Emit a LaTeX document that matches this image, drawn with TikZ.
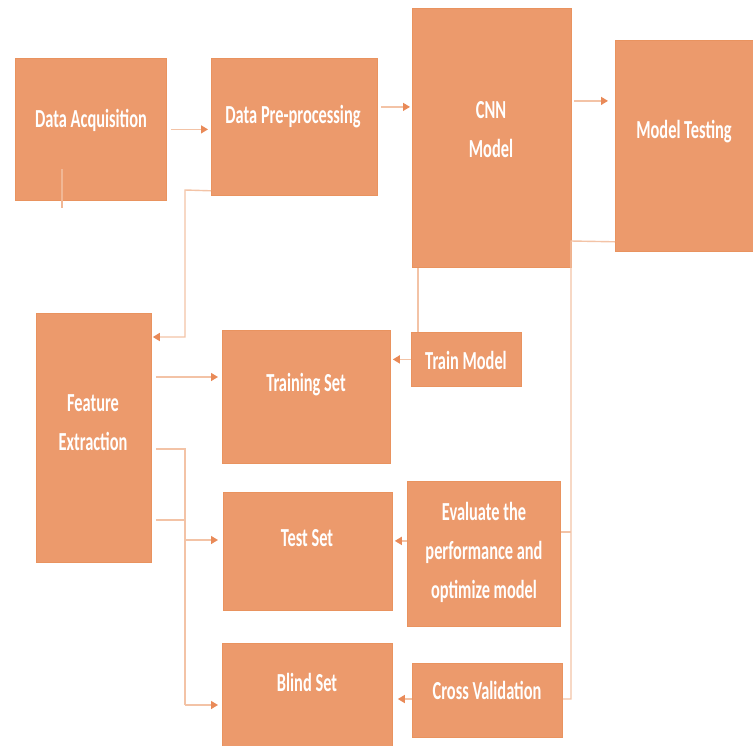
\documentclass[tikz,border=0pt]{standalone}
\usepackage{fontspec}
\newfontfamily\boxfont[FakeStretch=0.63]{Carlito}
\usetikzlibrary{arrows.meta}
\definecolor{boxfill}{HTML}{EC9A6C}
\definecolor{boxedge}{HTML}{E9935F}
\definecolor{linec}{HTML}{F3C3A6}
\definecolor{tipc}{HTML}{E98A58}
\tikzset{
  box/.style={draw=boxedge, line width=0.8pt, fill=boxfill, anchor=north west, inner sep=0pt},
  lbl/.style={text=white, font=\boxfont\bfseries\fontsize{26}{39}\selectfont, align=center, inner sep=0pt},
  conn/.style={draw=linec, line width=1.4pt},
  arr/.style={conn, -{Triangle[length=7pt,width=8pt,color=tipc,fill=tipc]}}
}
\begin{document}
\begin{tikzpicture}[x=1pt,y=-1pt]
\useasboundingbox (0,0) rectangle (753,745);
% boxes
\node[box, minimum width=151pt, minimum height=142pt] (da) at (15,58) {};
\node[box, minimum width=166pt, minimum height=137pt] (dpp) at (211,58) {};
\node[box, minimum width=159pt, minimum height=259pt] (cnn) at (412,8) {};
\node[box, minimum width=140pt, minimum height=211pt] (mt) at (615,40) {};
\node[box, minimum width=115pt, minimum height=249pt] (fe) at (36,313) {};
\node[box, minimum width=168pt, minimum height=133pt] (trs) at (222,330) {};
\node[box, minimum width=110pt, minimum height=54pt] (tm) at (411,332) {};
\node[box, minimum width=169pt, minimum height=118pt] (tes) at (223,492) {};
\node[box, minimum width=153pt, minimum height=145pt] (ev) at (407,481) {};
\node[box, minimum width=170pt, minimum height=104pt] (bs) at (222,643) {};
\node[box, minimum width=150pt, minimum height=74pt] (cv) at (412,663) {};
% labels
\node[lbl] (da-t) at (91,120) {Data Acquisition};
\node[lbl] (dpp-t) at (293,117) {Data Pre-processing};
\node[lbl] (cnn-t) at (491,130) {CNN\\Model};
\node[lbl] (mt-t) at (684,132) {Model Testing};
\node[lbl] (fe-t) at (93,423) {Feature\\Extraction};
\node[lbl] (trs-t) at (306,385) {Training Set};
\node[lbl] (tm-t) at (466,360) {Train Model};
\node[lbl] (tes-t) at (307,538) {Test Set};
\node[lbl] (ev-t) at (484,552) {Evaluate the\\performance and\\optimize model};
\node[lbl] (bs-t) at (307,682) {Blind Set};
\node[lbl] (cv-t) at (487,690) {Cross Validation};
% helper coordinates
\coordinate (bt) at (571,241);
\coordinate (bb) at (571,699);
\coordinate (lt) at (185,190);
\coordinate (lb) at (185,705);
\coordinate (dppo) at ([yshift=20pt]dpp.east);
\coordinate (cnno) at ([yshift=37pt]cnn.east);
\coordinate (mto) at ([yshift=10pt]mt.south west);
\coordinate (evo) at ([yshift=22pt]ev.east);
\coordinate (evi) at ([yshift=13pt]ev.west);
\coordinate (tmo) at ([xshift=7pt]tm.north west);
\coordinate (fein) at ([yshift=-24pt]fe.north east);
\coordinate (feo1) at ([yshift=-64pt]fe.north east);
\coordinate (feo2) at ([yshift=-136pt]fe.north east);
\coordinate (feo3) at ([yshift=-207pt]fe.north east);
\coordinate (tesi) at ([yshift=-48pt]tes.north west);
\coordinate (dppl) at ([yshift=5pt]dpp.south west);
% connectors
\draw[arr] ([xshift=4pt]da.east) -- ([xshift=-3pt]dpp.west |- da.east);
\draw[arr] ([xshift=3pt]dppo) -- ([xshift=-2pt]cnn.west |- dppo);
\draw[arr] ([xshift=2pt]cnno) -- ([xshift=-7pt]mt.west |- cnno);
\draw[conn] (mto) -- (bt) -- (bb) -- (cv.east |- bb);
\draw[conn] (evo) -- (bt |- evo);
\draw[conn] (tmo) -- (tmo |- cnn.south);
\draw[arr] (tm.west) -- ([xshift=2pt]trs.east |- tm.west);
\draw[arr] (evi) -- ([xshift=2pt]tes.east |- evi);
\draw[arr] (cv.west |- bb) -- ([xshift=5pt]bs.east |- bb);
\draw[arr] (dppl) -- (lt) -- (lt |- fein) -- ([xshift=1pt]fein);
\draw[arr] ([xshift=4pt]feo1) -- ([xshift=-4pt]trs.west |- feo1);
\draw[conn] ([xshift=4pt]feo2) -- (lb |- feo2) -- (lb);
\draw[arr] (lb) -- ([xshift=-4pt]bs.west |- lb);
\draw[conn] ([xshift=4pt]feo3) -- (lb |- feo3);
\draw[arr] (lb |- tesi) -- ([xshift=-5pt]tesi);
% stub under Data Acquisition
\coordinate (stub) at ([xshift=47pt]da.south west);
\draw[conn, draw=linec!70!boxfill] ([yshift=32pt]stub) -- ([yshift=-7pt]stub);
\end{tikzpicture}
\end{document}
